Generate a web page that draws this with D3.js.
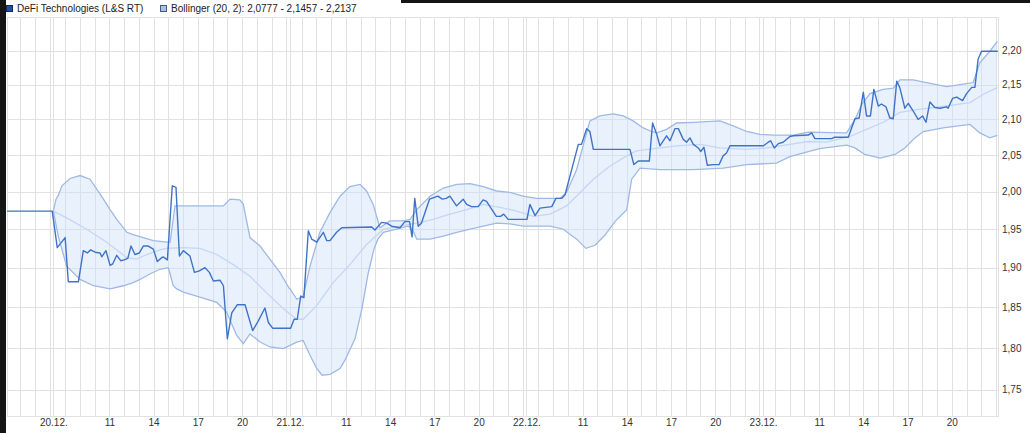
<!DOCTYPE html>
<html><head><meta charset="utf-8">
<script src="https://cdn.jsdelivr.net/npm/d3@7"></script>
<style>
html,body{margin:0;padding:0;background:#fff;}
svg{display:block;}
text{font-family:"Liberation Sans",Arial,sans-serif;}
</style></head><body>
<svg id="chart" width="1030" height="433"></svg>
<script>
// ---------------- DATA ----------------
const legendLabels = ["DeFi Technologies (L&S RT)", "Bollinger (20, 2): 2,0777 - 2,1457 - 2,2137"];
const timeRange = ["19.12. 20:06", "23.12. 23:08"];
const dayLabels = ["20.12.", "21.12.", "22.12.", "23.12."];
const hourLabels = [11, 14, 17, 20];
const yTicks = [1.75, 1.80, 1.85, 1.90, 1.95, 2.00, 2.05, 2.10, 2.15, 2.20];

const priceSeries = [
["19.12. 20:06",1.974],["19.12. 23:10",1.974],
["20.12. 07:28",1.926],["20.12. 08:00",1.939],["20.12. 08:13",1.882],["20.12. 08:54",1.882],
["20.12. 09:14",1.922],["20.12. 09:30",1.919],["20.12. 09:44",1.923],["20.12. 10:02",1.920],
["20.12. 10:22",1.919],["20.12. 10:29",1.914],["20.12. 10:46",1.922],["20.12. 11:03",1.903],
["20.12. 11:14",1.905],["20.12. 11:30",1.916],["20.12. 11:46",1.909],["20.12. 12:00",1.910],
["20.12. 12:15",1.912],["20.12. 12:28",1.928],["20.12. 12:44",1.917],["20.12. 13:02",1.919],
["20.12. 13:18",1.928],["20.12. 13:38",1.928],["20.12. 13:59",1.924],["20.12. 14:15",1.908],
["20.12. 14:33",1.913],["20.12. 14:39",1.914],["20.12. 14:56",1.910],["20.12. 15:16",2.008],
["20.12. 15:31",2.006],["20.12. 15:45",1.915],["20.12. 16:01",1.922],["20.12. 16:28",1.915],
["20.12. 16:46",1.894],["20.12. 17:06",1.896],["20.12. 17:29",1.900],["20.12. 17:47",1.894],
["20.12. 18:03",1.883],["20.12. 18:30",1.884],["20.12. 18:44",1.877],["20.12. 19:00",1.811],
["20.12. 19:18",1.843],["20.12. 19:40",1.853],["20.12. 20:12",1.853],["20.12. 20:43",1.821],
["20.12. 21:06",1.833],["20.12. 21:33",1.849],["20.12. 21:47",1.831],["20.12. 22:04",1.824],
["20.12. 23:10",1.824],
["21.12. 07:15",1.824],["21.12. 07:29",1.835],["21.12. 07:42",1.835],["21.12. 07:56",1.864],
["21.12. 08:09",1.862],["21.12. 08:27",1.948],["21.12. 08:41",1.937],["21.12. 09:01",1.933],
["21.12. 09:28",1.946],["21.12. 09:42",1.935],["21.12. 09:55",1.935],["21.12. 10:22",1.946],
["21.12. 10:43",1.952],["21.12. 12:45",1.953],["21.12. 12:58",1.949],["21.12. 13:25",1.959],
["21.12. 13:46",1.958],["21.12. 14:06",1.954],["21.12. 14:40",1.952],["21.12. 15:00",1.960],
["21.12. 15:19",1.960],["21.12. 15:29",1.940],["21.12. 15:40",1.991],["21.12. 15:54",1.954],
["21.12. 16:07",1.958],["21.12. 16:40",1.990],["21.12. 17:14",1.994],["21.12. 17:32",1.990],
["21.12. 17:48",1.991],["21.12. 18:03",1.994],["21.12. 18:30",1.981],["21.12. 18:57",1.990],
["21.12. 19:11",1.983],["21.12. 19:31",1.980],["21.12. 19:58",1.980],["21.12. 20:18",1.989],
["21.12. 20:32",1.987],["21.12. 21:12",1.967],["21.12. 21:29",1.967],["21.12. 21:42",1.970],
["21.12. 22:00",1.963],["21.12. 23:10",1.963],
["22.12. 07:14",1.963],["22.12. 07:26",1.983],["22.12. 07:47",1.968],["22.12. 08:07",1.978],
["22.12. 08:55",1.980],["22.12. 09:12",1.991],["22.12. 09:35",1.991],["22.12. 09:49",1.996],
["22.12. 10:16",2.030],["22.12. 10:43",2.065],["22.12. 10:56",2.065],["22.12. 11:17",2.087],
["22.12. 11:30",2.083],["22.12. 11:44",2.058],["22.12. 14:13",2.058],["22.12. 14:29",2.037],
["22.12. 14:47",2.042],["22.12. 15:32",2.042],["22.12. 15:45",2.095],["22.12. 16:02",2.079],
["22.12. 16:15",2.063],["22.12. 16:42",2.077],["22.12. 16:56",2.070],["22.12. 17:16",2.087],
["22.12. 17:30",2.087],["22.12. 17:50",2.072],["22.12. 18:04",2.068],["22.12. 18:17",2.074],
["22.12. 18:31",2.065],["22.12. 18:51",2.060],["22.12. 19:01",2.055],["22.12. 19:14",2.061],
["22.12. 19:28",2.036],["22.12. 19:52",2.037],["22.12. 20:16",2.037],["22.12. 20:32",2.049],
["22.12. 20:46",2.053],["22.12. 21:00",2.063],["22.12. 23:10",2.063],
["23.12. 07:14",2.063],["23.12. 07:33",2.068],["23.12. 07:43",2.070],["23.12. 07:58",2.060],
["23.12. 08:14",2.066],["23.12. 08:34",2.068],["23.12. 09:01",2.076],["23.12. 09:15",2.077],
["23.12. 10:16",2.078],["23.12. 10:30",2.081],["23.12. 10:43",2.073],["23.12. 11:51",2.073],
["23.12. 12:04",2.075],["23.12. 12:59",2.075],["23.12. 13:26",2.101],["23.12. 13:43",2.102],
["23.12. 14:00",2.139],["23.12. 14:13",2.105],["23.12. 14:29",2.105],["23.12. 14:43",2.143],
["23.12. 15:01",2.119],["23.12. 15:14",2.122],["23.12. 15:32",2.118],["23.12. 15:48",2.102],
["23.12. 16:02",2.101],["23.12. 16:16",2.155],["23.12. 16:29",2.145],["23.12. 16:49",2.116],
["23.12. 17:03",2.123],["23.12. 17:23",2.112],["23.12. 17:43",2.100],["23.12. 18:01",2.105],
["23.12. 18:15",2.096],["23.12. 18:31",2.125],["23.12. 18:51",2.117],["23.12. 19:12",2.116],
["23.12. 19:39",2.118],["23.12. 19:45",2.116],["23.12. 20:03",2.130],["23.12. 20:20",2.132],
["23.12. 20:44",2.127],["23.12. 21:00",2.137],["23.12. 21:21",2.146],["23.12. 21:34",2.146],
["23.12. 21:47",2.187],["23.12. 22:01",2.199],["23.12. 23:07",2.199]
];

const upperBand = [
["20.12. 07:12",1.974],["20.12. 07:23",1.990],["20.12. 07:32",1.995],["20.12. 07:47",2.008],
["20.12. 08:20",2.018],["20.12. 09:01",2.022],["20.12. 09:41",2.017],["20.12. 10:22",1.997],
["20.12. 11:03",1.976],["20.12. 11:30",1.963],["20.12. 12:11",1.946],["20.12. 12:37",1.943],
["20.12. 13:18",1.939],["20.12. 13:59",1.935],["20.12. 14:53",1.933],["20.12. 15:07",1.933],
["20.12. 15:27",1.981],["20.12. 18:44",1.981],["20.12. 19:11",1.990],["20.12. 19:51",1.989],
["20.12. 20:05",1.983],["20.12. 20:32",1.939],["20.12. 21:13",1.928],["20.12. 21:53",1.911],
["20.12. 22:34",1.894],["20.12. 23:11",1.874],
["21.12. 07:13",1.873],["21.12. 07:40",1.860],["21.12. 08:06",1.864],["21.12. 08:34",1.902],
["21.12. 09:14",1.946],["21.12. 09:55",1.972],["21.12. 10:36",1.994],["21.12. 11:16",2.007],
["21.12. 11:57",2.010],["21.12. 12:24",2.001],["21.12. 12:51",1.983],["21.12. 13:18",1.952],
["21.12. 13:59",1.961],["21.12. 14:54",1.961],["21.12. 15:21",1.963],["21.12. 15:48",1.976],
["21.12. 16:42",1.994],["21.12. 17:36",2.005],["21.12. 18:31",2.010],["21.12. 19:25",2.011],
["21.12. 20:19",2.007],["21.12. 21:13",2.001],["21.12. 22:07",1.999],["21.12. 23:01",1.994],
["22.12. 07:53",1.991],["22.12. 08:48",1.991],["22.12. 09:28",1.991],["22.12. 09:55",1.999],
["22.12. 10:36",2.030],["22.12. 11:30",2.098],["22.12. 12:11",2.105],["22.12. 13:05",2.108],
["22.12. 13:46",2.105],["22.12. 14:26",2.098],["22.12. 15:07",2.088],["22.12. 15:41",2.083],
["22.12. 16:02",2.081],["22.12. 16:42",2.086],["22.12. 17:23",2.095],["22.12. 18:31",2.096],
["22.12. 20:19",2.098],["22.12. 21:13",2.091],["22.12. 22:08",2.083],["22.12. 23:02",2.079],
["23.12. 07:53",2.078],["23.12. 09:15",2.078],["23.12. 10:16",2.082],["23.12. 12:52",2.081],
["23.12. 13:26",2.100],["23.12. 13:53",2.121],["23.12. 14:27",2.137],["23.12. 15:21",2.143],
["23.12. 16:02",2.145],["23.12. 16:29",2.157],["23.12. 17:23",2.157],["23.12. 18:17",2.153],
["23.12. 19:39",2.147],["23.12. 20:33",2.150],["23.12. 21:27",2.153],["23.12. 21:54",2.182],
["23.12. 22:35",2.199],["23.12. 23:05",2.2137]
];

const middleBand = [
["20.12. 07:12",1.974],["20.12. 08:06",1.965],["20.12. 09:28",1.950],["20.12. 10:49",1.933],
["20.12. 12:11",1.913],["20.12. 12:51",1.911],["20.12. 13:32",1.917],["20.12. 14:26",1.923],
["20.12. 14:53",1.925],["20.12. 16:01",1.926],["20.12. 17:09",1.925],["20.12. 18:17",1.917],
["20.12. 19:24",1.904],["20.12. 20:32",1.889],["20.12. 21:40",1.868],["20.12. 22:48",1.848],
["21.12. 07:40",1.835],["21.12. 08:06",1.835],["21.12. 09:01",1.852],["21.12. 10:08",1.881],
["21.12. 11:16",1.904],["21.12. 12:24",1.930],["21.12. 13:32",1.950],["21.12. 14:40",1.954],
["21.12. 15:48",1.958],["21.12. 16:55",1.963],["21.12. 18:03",1.970],["21.12. 19:11",1.976],
["21.12. 20:19",1.983],["21.12. 21:27",1.979],["21.12. 22:35",1.974],
["22.12. 07:40",1.967],["22.12. 08:48",1.970],["22.12. 09:55",1.981],["22.12. 11:03",2.003],
["22.12. 11:44",2.017],["22.12. 12:52",2.035],["22.12. 14:00",2.049],["22.12. 14:40",2.056],
["22.12. 16:15",2.060],["22.12. 17:23",2.063],["22.12. 18:58",2.065],["22.12. 20:19",2.060],
["22.12. 22:08",2.058],
["23.12. 07:27",2.060],["23.12. 09:01",2.065],["23.12. 10:16",2.069],["23.12. 11:31",2.068],
["23.12. 13:05",2.076],["23.12. 14:13",2.086],["23.12. 15:21",2.096],["23.12. 16:29",2.110],
["23.12. 17:37",2.114],["23.12. 18:44",2.117],["23.12. 19:53",2.120],["23.12. 21:14",2.124],
["23.12. 22:08",2.136],["23.12. 23:05",2.1457]
];

const lowerBand = [
["20.12. 07:12",1.974],["20.12. 07:32",1.941],["20.12. 08:06",1.902],["20.12. 09:01",1.885],
["20.12. 09:55",1.877],["20.12. 11:03",1.873],["20.12. 11:57",1.877],["20.12. 12:37",1.881],
["20.12. 13:05",1.885],["20.12. 13:45",1.892],["20.12. 14:26",1.898],["20.12. 15:00",1.900],
["20.12. 15:20",1.877],["20.12. 15:34",1.873],["20.12. 16:01",1.869],["20.12. 16:55",1.864],
["20.12. 18:17",1.856],["20.12. 18:57",1.844],["20.12. 19:38",1.815],["20.12. 20:05",1.805],
["20.12. 20:32",1.817],["20.12. 21:13",1.807],["20.12. 21:53",1.801],["20.12. 22:48",1.799],
["21.12. 07:40",1.807],["21.12. 08:06",1.809],["21.12. 08:34",1.791],["21.12. 09:01",1.775],
["21.12. 09:23",1.767],["21.12. 09:55",1.768],["21.12. 10:36",1.775],["21.12. 10:56",1.785],
["21.12. 11:37",1.811],["21.12. 12:05",1.848],["21.12. 12:30",1.892],["21.12. 12:54",1.924],
["21.12. 13:10",1.937],["21.12. 13:32",1.946],["21.12. 14:26",1.950],["21.12. 15:14",1.954],
["21.12. 15:33",1.948],["21.12. 15:48",1.937],["21.12. 16:42",1.937],["21.12. 17:36",1.941],
["21.12. 18:31",1.946],["21.12. 19:25",1.950],["21.12. 20:19",1.954],["21.12. 21:13",1.958],
["21.12. 22:07",1.957],["21.12. 23:01",1.954],
["22.12. 07:53",1.954],["22.12. 08:48",1.954],["22.12. 09:42",1.950],["22.12. 10:36",1.937],
["22.12. 11:14",1.925],["22.12. 11:51",1.929],["22.12. 12:31",1.942],["22.12. 13:12",1.960],
["22.12. 14:00",1.976],["22.12. 14:20",2.017],["22.12. 14:54",2.032],["22.12. 16:15",2.030],
["22.12. 18:31",2.030],["22.12. 20:33",2.032],["22.12. 22:08",2.037],
["23.12. 08:07",2.039],["23.12. 09:01",2.048],["23.12. 10:16",2.055],["23.12. 11:03",2.059],
["23.12. 12:52",2.064],["23.12. 13:26",2.060],["23.12. 14:06",2.051],["23.12. 15:08",2.046],
["23.12. 16:09",2.051],["23.12. 16:49",2.060],["23.12. 17:30",2.074],["23.12. 18:04",2.083],
["23.12. 19:25",2.088],["23.12. 21:14",2.093],["23.12. 21:54",2.081],["23.12. 22:35",2.074],
["23.12. 23:05",2.0777]
];

// ---------------- SESSION TIME ----------------
const SESSION_OPEN_MIN = 432;   // session opens 07:12
const SESSION_SPAN_MIN = 962.5; // visual width of one trading day
function sessionTime(s) {
  const [d, hm] = s.split(" ");
  const day = +d.split(".")[0] - 19;
  const [h, m] = hm.split(":").map(Number);
  return day * SESSION_SPAN_MIN + h * 60 + m - SESSION_OPEN_MIN;
}

// ---------------- CHART ----------------
const svg = d3.select("#chart");
const plot = {left: 7, right: 998, top: 17, bottom: 416};

const x = d3.scaleLinear()
  .domain(timeRange.map(sessionTime))
  .range([plot.left, plot.right]);
const y = d3.scaleLog()
  .domain([1.719, 2.2504])
  .range([plot.bottom, plot.top]);

// frame strips
svg.append("rect").attr("x", 0).attr("y", 0).attr("width", 1030).attr("height", 433).attr("fill", "#fff");
svg.append("rect").attr("x", 0).attr("y", 0).attr("width", 1030).attr("height", 3).attr("fill", "#151515");
svg.append("rect").attr("x", 0).attr("y", 0).attr("width", 6).attr("height", 433).attr("fill", "#151515");
svg.append("rect").attr("x", 6).attr("y", 0).attr("width", 395).attr("height", 16).attr("fill", "#fff");

// vertical grid values
const [t0, t1] = x.domain();
const vGrid = [];
const xTickVals = [], xTickText = new Map();
for (let d = 0; d <= 4; d++) {
  const start = d * SESSION_SPAN_MIN;
  if (start >= t0 && start <= t1) {
    vGrid.push(start);
    if (d >= 1) { xTickVals.push(start); xTickText.set(start, dayLabels[d - 1]); }
  }
  for (let h = 8; h <= 23; h++) {
    const t = start + h * 60 - SESSION_OPEN_MIN;
    if (t > t0 + 1 && t < t1 - 1) {
      vGrid.push(t);
      if (hourLabels.includes(h) && d >= 1) { xTickVals.push(t); xTickText.set(t, String(h)); }
    }
  }
}

const gridColor = "#e1e1e1";
// vertical gridlines via axis
const gx = svg.append("g").attr("transform", `translate(0,${plot.bottom})`)
  .call(d3.axisBottom(x).tickValues(vGrid).tickSize(-(plot.bottom - plot.top)).tickFormat(""));
gx.select(".domain").remove();
gx.selectAll("line").attr("stroke", gridColor).attr("stroke-width", 1).attr("shape-rendering", "crispEdges");

// horizontal gridlines via axis
const gy = svg.append("g").attr("transform", `translate(${plot.left},0)`)
  .call(d3.axisRight(y).tickValues(yTicks).tickSize(plot.right - plot.left).tickFormat(""));
gy.select(".domain").remove();
gy.selectAll("line").attr("stroke", gridColor).attr("stroke-width", 1).attr("shape-rendering", "crispEdges");

// plot border
svg.append("rect")
  .attr("x", plot.left + 0.5).attr("y", plot.top + 0.5)
  .attr("width", plot.right - plot.left).attr("height", plot.bottom - plot.top)
  .attr("fill", "none").attr("stroke", gridColor).attr("shape-rendering", "crispEdges");

// clip
svg.append("clipPath").attr("id", "clip").append("rect")
  .attr("x", plot.left).attr("y", plot.top)
  .attr("width", plot.right - plot.left).attr("height", plot.bottom - plot.top);
const g = svg.append("g").attr("clip-path", "url(#clip)");

const line = d3.line().x(d => x(sessionTime(d[0]))).y(d => y(d[1]));

// band fill
const bandPoly = upperBand.concat(lowerBand.slice().reverse());
g.append("path")
  .attr("d", line(bandPoly) + "Z")
  .attr("fill", "#cfdff9").attr("fill-opacity", 0.45).attr("stroke", "none");

g.append("path").attr("d", line(middleBand))
  .attr("fill", "none").attr("stroke", "#c3d6f5").attr("stroke-width", 1.3);
g.append("path").attr("d", line(upperBand))
  .attr("fill", "none").attr("stroke", "#9fb9e4").attr("stroke-width", 1.3);
g.append("path").attr("d", line(lowerBand))
  .attr("fill", "none").attr("stroke", "#9fb9e4").attr("stroke-width", 1.3);

g.append("path").attr("d", line(priceSeries))
  .attr("fill", "none").attr("stroke", "#3e73c8").attr("stroke-width", 1.4)
  .attr("stroke-linejoin", "round");

// x labels
const ax = svg.append("g").attr("transform", `translate(0,${plot.bottom})`)
  .call(d3.axisBottom(x).tickValues(xTickVals).tickSize(0).tickPadding(3)
    .tickFormat(d => xTickText.get(d)));
ax.select(".domain").remove();
ax.selectAll("text").attr("font-size", 10).attr("fill", "#333")
  .attr("font-family", "'Liberation Sans', Arial, sans-serif");

// y labels
const ay = svg.append("g").attr("transform", `translate(${plot.right},0)`)
  .call(d3.axisRight(y).tickValues(yTicks).tickSize(0).tickPadding(4)
    .tickFormat(d => d.toFixed(2).replace(".", ",")));
ay.select(".domain").remove();
ay.selectAll("text").attr("font-size", 10).attr("fill", "#333")
  .attr("font-family", "'Liberation Sans', Arial, sans-serif");

// legend
const legend = svg.append("g");
const legendItems = [
  {x: 6, fill: "#1f50a8", stroke: "#0c2a66", label: legendLabels[0]},
  {x: 160, fill: "#a9c1ea", stroke: "#4a5a78", label: legendLabels[1]}
];
legendItems.forEach(it => {
  legend.append("rect").attr("x", it.x + 0.5).attr("y", 5.5).attr("width", 6).attr("height", 6)
    .attr("fill", it.fill).attr("stroke", it.stroke);
  legend.append("text").attr("x", it.x + 11).attr("y", 12)
    .attr("font-size", 10).attr("fill", "#222").text(it.label);
});
</script>
</body></html>
